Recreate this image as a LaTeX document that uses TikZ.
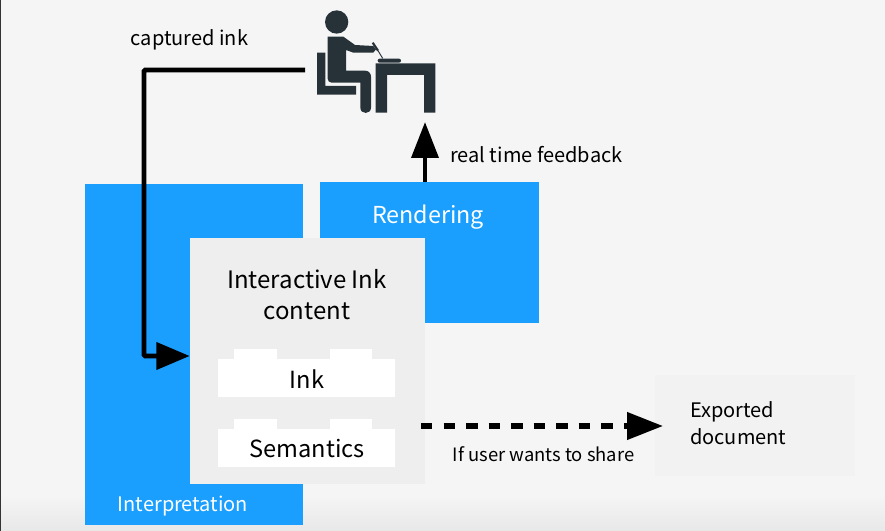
\documentclass[tikz,border=0pt]{standalone}
\usepackage{fontspec}
\setmainfont{Noto Sans CJK SC}
\usetikzlibrary{arrows.meta}
\usetikzlibrary{calc}
\definecolor{inkblue}{HTML}{1A9FFF}
\definecolor{pagegrey}{HTML}{F5F5F5}
\definecolor{contentgrey}{HTML}{EEEEEE}
\definecolor{exportgrey}{HTML}{F2F2F2}
\definecolor{writerdark}{HTML}{263238}
\tikzset{
  bluebox/.style={fill=inkblue,inner sep=0pt},
  blockbox/.style={fill=white,minimum width=132.75pt,minimum height=28.5pt,inner sep=0pt,font=\fontsize{17.7}{22}\selectfont},
  tabbox/.style={fill=white,minimum width=32pt,minimum height=8pt,inner sep=0pt},
  flowline/.style={line width=3.6pt,->},
  caption/.style={inner sep=0pt,font=\fontsize{15}{19}\selectfont},
}
\begin{document}
\begin{tikzpicture}[x=.75pt,y=-.75pt,>={Triangle[length=27pt,width=20pt]}]
\useasboundingbox (0,0) rectangle (885,531);
\fill [pagegrey] (0,0) rectangle (885,531);
\shade [top color=pagegrey,bottom color=black!9,draw=none] (0,495) rectangle (885,531);
\fill [black!80] (0,0) rectangle (1,531);
\node [bluebox,minimum width=163.5pt,minimum height=255.75pt] (interp) at (194,354.5) {};
\node [bluebox,minimum width=164.25pt,minimum height=105.75pt] (render) at (429.5,252.5) {};
\node [fill=contentgrey,minimum width=176.25pt,minimum height=184.5pt,inner sep=0pt] (content) at (307.5,361) {};
\node [fill=exportgrey,minimum width=150pt,minimum height=75.75pt,inner sep=0pt] (export) at (755,425.5) {};
\node [blockbox] (ink) at (306.5,378) {};
\node [inner sep=0pt,font=\fontsize{17.7}{22}\selectfont] (inktext) at (307,379) {Ink};
\node [tabbox] (inktabl) at (255.5,354) {};
\node [tabbox] (inktabr) at (351,354) {};
\node [blockbox] (sem) at (306.5,448) {};
\node [inner sep=0pt,font=\fontsize{17.7}{22}\selectfont] (semtext) at (307,449) {Semantics};
\node [tabbox] (semtabl) at (255.5,424) {};
\node [tabbox] (semtabr) at (351,424) {};
\node [inner sep=0pt,text=white,font=\fontsize{17.5}{22}\selectfont] (rendertext) at (428,217) {Rendering};
\node [inner sep=0pt,text=white,font=\fontsize{15}{19}\selectfont] (interptext) at (183,506) {Interpretation};
\node [inner sep=0pt,align=center,font=\fontsize{18}{23.25}\selectfont] (contenttext) at (307,295) {Interactive Ink\\content};
\node [inner sep=0pt,align=left,anchor=west,font=\fontsize{15}{20.25}\selectfont] (exporttext) at (690,423) {Exported\\document};
\node [caption] (capturedtext) at (189.5,40) {captured ink};
\node [caption,anchor=west] (feedbacktext) at (450,155) {real time feedback};
\node [caption,anchor=west,font=\fontsize{13.8}{17}\selectfont] (sharetext) at (452.5,454) {If user wants to share};
% writer at the desk, traced in pixels
\begin{scope}[shift={(290,0)},x=.25pt,y=-.25pt,fill=writerdark]
\fill (140,66) circle (35);
\fill (113,110) -- (160,110) -- (195,135) -- (250,138) -- (258,148) -- (250,158) -- (190,158) -- (168,150) -- (168,212) -- (225,212) .. controls (236,212) and (243,220) .. (243,230) -- (243,323) .. controls (243,344) and (211,344) .. (211,323) -- (211,248) -- (125,248) .. controls (118,248) and (113,243) .. (113,236) -- cycle;
\fill (81,158) -- (106,158) -- (106,258) -- (198,258) -- (198,284) -- (81,284) -- cycle;
\fill (257,190) -- (436,190) -- (436,338) -- (402,338) -- (402,225) -- (291,225) -- (291,338) -- (257,338) -- cycle;
\fill [rounded corners=1.5pt] (263,176) rectangle (333,188);
\draw [writerdark,line width=1.6pt] (248,128) -- (264,152);
\draw [writerdark,line width=.7pt] (264,152) -- (278,175);
\end{scope}
\coordinate (inkstart) at (305,70);
\coordinate (inkbend) at (144,70);
\coordinate (inkend) at (content.west |- 0,356);
\coordinate (feedbackend) at (425,122);
\coordinate (sharestart) at (421,426);
\coordinate (shareend) at (663,426);
\draw [flowline,-{Triangle[length=25pt,width=20pt]},rounded corners=1pt] (inkstart) -- (inkbend) -- (inkbend |- inkend) -- (inkend);
\draw [flowline] (render.north -| feedbackend) -- (feedbackend);
\draw [flowline,line width=4pt,dash pattern=on 8.6pt off 8.3pt] (sharestart) -- (shareend);
\end{tikzpicture}
\end{document}
